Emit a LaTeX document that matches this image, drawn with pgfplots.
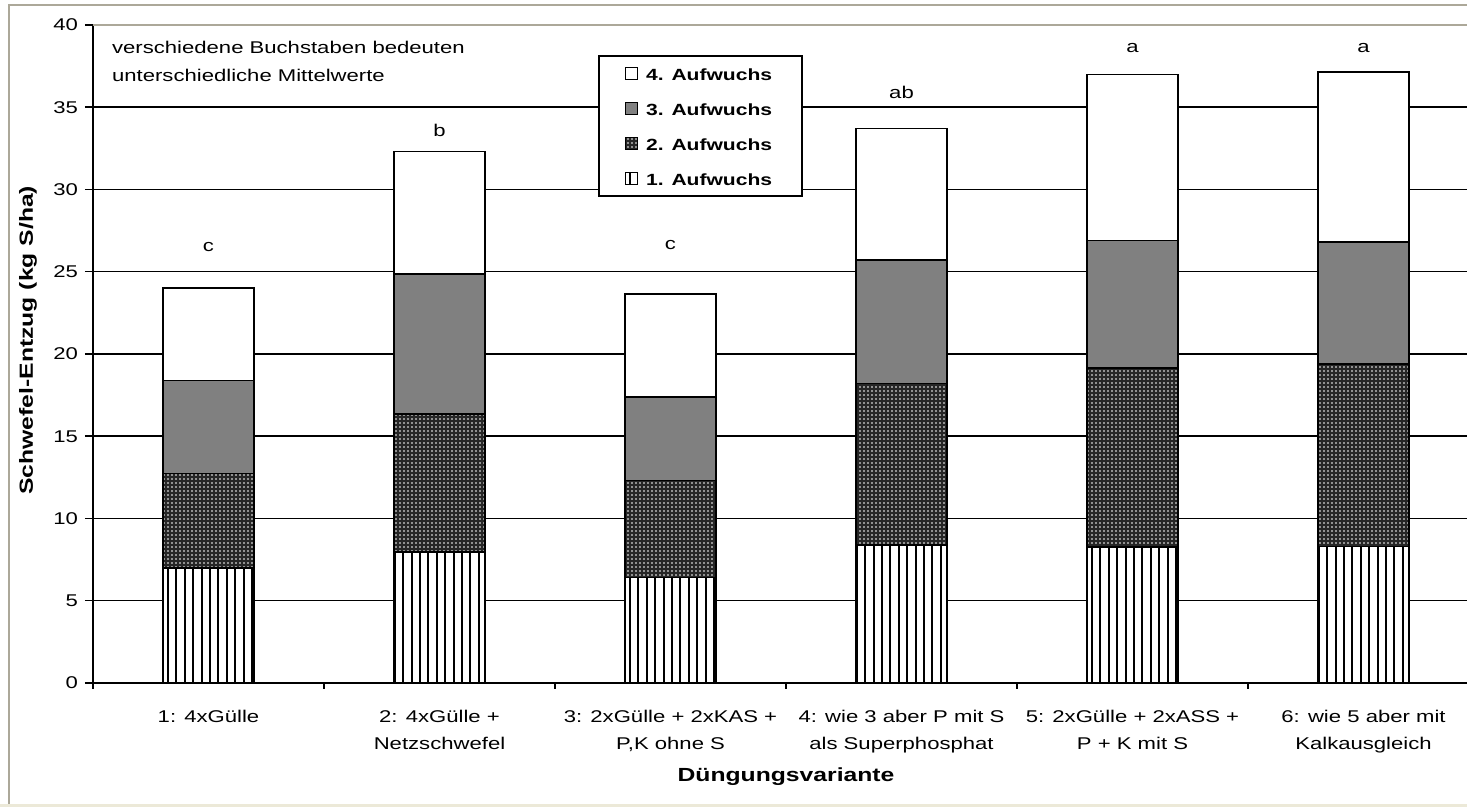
\documentclass[border=0pt]{standalone}
\usepackage{fontspec}
\setmainfont{Liberation Sans}[FakeStretch=1.3]
\usepackage{pgfplots}
\usepackage{pgfplotstable}
\pgfplotsset{compat=1.18}
\usetikzlibrary{patterns.meta}

\definecolor{framegray}{RGB}{172,168,153}
\definecolor{panelbeige}{RGB}{236,233,216}

% Schwefel-Entzug je Aufwuchs (kg S/ha), Varianten 1-6
\pgfplotstableread{
cat a1   a2    a3   a4
1   7.00 5.75  5.65 5.60
2   7.96 8.39  8.51 7.44
3   6.40 5.90  5.10 6.25
4   8.40 9.80  7.50 8.00
5   8.27 10.88 7.75 10.10
6   8.30 11.10 7.40 10.35
}\datatable

\pgfplotsset{
  auf1/.style={fill=white, draw=black, line width=0.75pt,
    postaction={pattern={Lines[angle=90,distance=4.2pt,line width=1pt]}, pattern color=black}},
  auf2/.style={fill=black!85, draw=black, line width=0.75pt,
    postaction={pattern={Dots[distance=2pt,radius=0.45pt]}, pattern color=white}},
  auf3/.style={fill=black!50, draw=black, line width=0.75pt},
  auf4/.style={fill=white, draw=black, line width=0.75pt},
}

\begin{document}
\begin{tikzpicture}
\useasboundingbox (-46.5pt,-62pt) rectangle (687pt,341.5pt);
\fill[white] (-46.5pt,-62pt) rectangle (687pt,341.5pt);
\fill[panelbeige] (-46.5pt,-62pt) rectangle (687pt,-60.5pt);
\draw[framegray, line width=1.2pt] (-42pt,-60.5pt) -- (-42pt,339pt) -- (687pt,339pt);
\begin{axis}[
  scale only axis, width=693pt, height=329pt,
  xmin=0.5, xmax=6.5, ymin=0, ymax=40,
  ybar stacked, bar width=45.5pt,
  axis lines*=left,
  axis line style={line width=0.75pt},
  tick align=outside,
  major tick length=4pt, minor tick length=3pt,
  tick style={black, line width=0.75pt},
  ytick={0,5,...,35}, extra y ticks={40},
  extra y tick style={grid style={framegray, line width=0.75pt}},
  ymajorgrids, grid style={black, line width=0.75pt},
  xtick={1,...,6},
  major x tick style={draw=none},
  minor xtick={0.5,1.5,...,6.5},
  xticklabels={{1: 4xGülle},{2: 4xGülle +\\Netzschwefel},{3: 2xGülle + 2xKAS +\\P,K ohne S},{4: wie 3 aber P mit S\\als Superphosphat},{5: 2xGülle + 2xASS +\\P + K mit S},{6: wie 5 aber mit\\Kalkausgleich}},
  xticklabel style={align=center, anchor=north, yshift=-6pt, font=\fontsize{8.5}{13.5}\selectfont},
  yticklabel style={font=\fontsize{8.5}{10}\selectfont},
  /pgf/number format/assume math mode=true,
  xlabel={Düngungsvariante},
  ylabel={Schwefel-Entzug (kg S/ha)},
  every axis x label/.style={at={(axis description cs:0.5,-0.1428)}, anchor=center, font=\bfseries\fontsize{9.5}{11}\selectfont},
  every axis y label/.style={at={(axis description cs:-0.0469,0.521)}, rotate=90, anchor=center, font=\bfseries\fontsize{9.5}{11}\selectfont},
  legend style={at={(axis description cs:0.3644,0.954)}, anchor=north west, draw=black, line width=0.75pt,
    font=\bfseries\fontsize{8.1}{10}\selectfont, row sep=0pt, inner xsep=13pt, inner ysep=0pt,
    nodes={text height=6.5pt, text depth=0pt, inner ysep=5.5pt}},
  legend cell align=left,
  reverse legend,
  legend image code/.code={\draw[#1, line width=0.6pt] (0pt,-3pt) rectangle (6pt,3pt); \path (8pt,0pt);},
]
\addplot[auf1] table[x=cat, y=a1] {\datatable};
\addplot[auf2] table[x=cat, y=a2] {\datatable};
\addplot[auf3] table[x=cat, y=a3] {\datatable};
\addplot[auf4] table[x=cat, y=a4] {\datatable};
\legend{1. Aufwuchs, 2. Aufwuchs, 3. Aufwuchs, 4. Aufwuchs}
\node[font=\fontsize{8.5}{10}\selectfont] at (axis cs:1,26.5) {c};
\node[font=\fontsize{8.5}{10}\selectfont] at (axis cs:2,33.6) {b};
\node[font=\fontsize{8.5}{10}\selectfont] at (axis cs:3,26.6) {c};
\node[font=\fontsize{8.5}{10}\selectfont] at (axis cs:4,35.9) {ab};
\node[font=\fontsize{8.5}{10}\selectfont] at (axis cs:5,38.6) {a};
\node[font=\fontsize{8.5}{10}\selectfont] at (axis cs:6,38.6) {a};
\node[font=\fontsize{8.5}{10}\selectfont, anchor=west] at (axis description cs:0.0087,0.9666) {verschiedene Buchstaben bedeuten};
\node[font=\fontsize{8.5}{10}\selectfont, anchor=west] at (axis description cs:0.0087,0.924) {unterschiedliche Mittelwerte};
\end{axis}
\end{tikzpicture}
\end{document}
